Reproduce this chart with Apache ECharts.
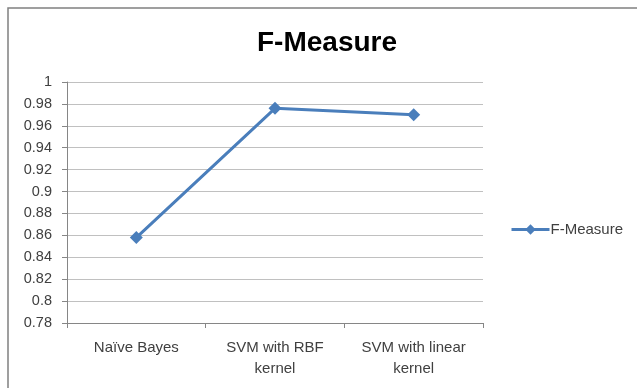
<!DOCTYPE html>
<html>
<head>
<meta charset="utf-8">
<script src="https://cdn.jsdelivr.net/npm/echarts@6/dist/echarts.min.js"></script>
<style>
  html, body { margin: 0; padding: 0; background: #fff; }
  #chart { width: 637px; height: 388px; }
</style>
</head>
<body>
<div id="chart"></div>
<script>
// Classifier names shown along the x axis
const categories = ['Naïve Bayes', 'SVM with RBF\nkernel', 'SVM with linear\nkernel'];
// F-Measure score for each classifier
const fMeasure = [0.858, 0.976, 0.970];
// Value axis range and step
const yMin = 0.78;
const yMax = 1.0;
const yStep = 0.02;

const chart = echarts.init(document.getElementById('chart'), null, { renderer: 'canvas' });
const font = '"Liberation Sans", Arial, sans-serif';

chart.setOption({
  animation: false,
  backgroundColor: '#ffffff',
  graphic: [{
    type: 'rect',
    x: 8, y: 8,
    shape: { x: 0, y: 0, width: 700, height: 460 },
    style: { fill: 'none', stroke: '#808080', lineWidth: 1.5 },
    silent: true
  }],
  title: {
    text: 'F-Measure',
    left: 322, top: 24,
    textAlign: 'center',
    textStyle: { fontFamily: font, fontSize: 28, fontWeight: 'bold', color: '#000' }
  },
  legend: {
    data: ['F-Measure'],
    left: 505, top: 217,
    itemWidth: 38, itemHeight: 13,
    itemGap: 0,
    lineStyle: { width: 3 },
    textStyle: { fontFamily: font, fontSize: 15, color: '#404040', padding: [0, 0, 0, -4] }
  },
  grid: { left: 67, right: 154, top: 82, bottom: 65, containLabel: false },
  xAxis: {
    type: 'category',
    data: categories,
    boundaryGap: true,
    axisLine: { lineStyle: { color: '#868686', width: 1 } },
    axisTick: { show: true, length: 5, lineStyle: { color: '#868686' } },
    axisLabel: { fontFamily: font, fontSize: 15, color: '#404040', margin: 14, lineHeight: 21 }
  },
  yAxis: {
    type: 'value',
    min: yMin, max: yMax, interval: yStep,
    axisLine: { show: true, lineStyle: { color: '#868686', width: 1 } },
    axisTick: { show: true, length: 5, lineStyle: { color: '#868686' } },
    axisLabel: {
      fontFamily: font, fontSize: 14.5, color: '#404040', margin: 15,
      formatter: v => String(parseFloat(v.toFixed(2)))
    },
    splitLine: { lineStyle: { color: '#C0C0C0', width: 1 } }
  },
  series: [{
    name: 'F-Measure',
    type: 'line',
    data: fMeasure,
    symbol: 'diamond',
    symbolSize: 13,
    lineStyle: { color: '#4A7EBB', width: 3 },
    itemStyle: { color: '#4A7EBB' }
  }]
});
</script>
</body>
</html>
